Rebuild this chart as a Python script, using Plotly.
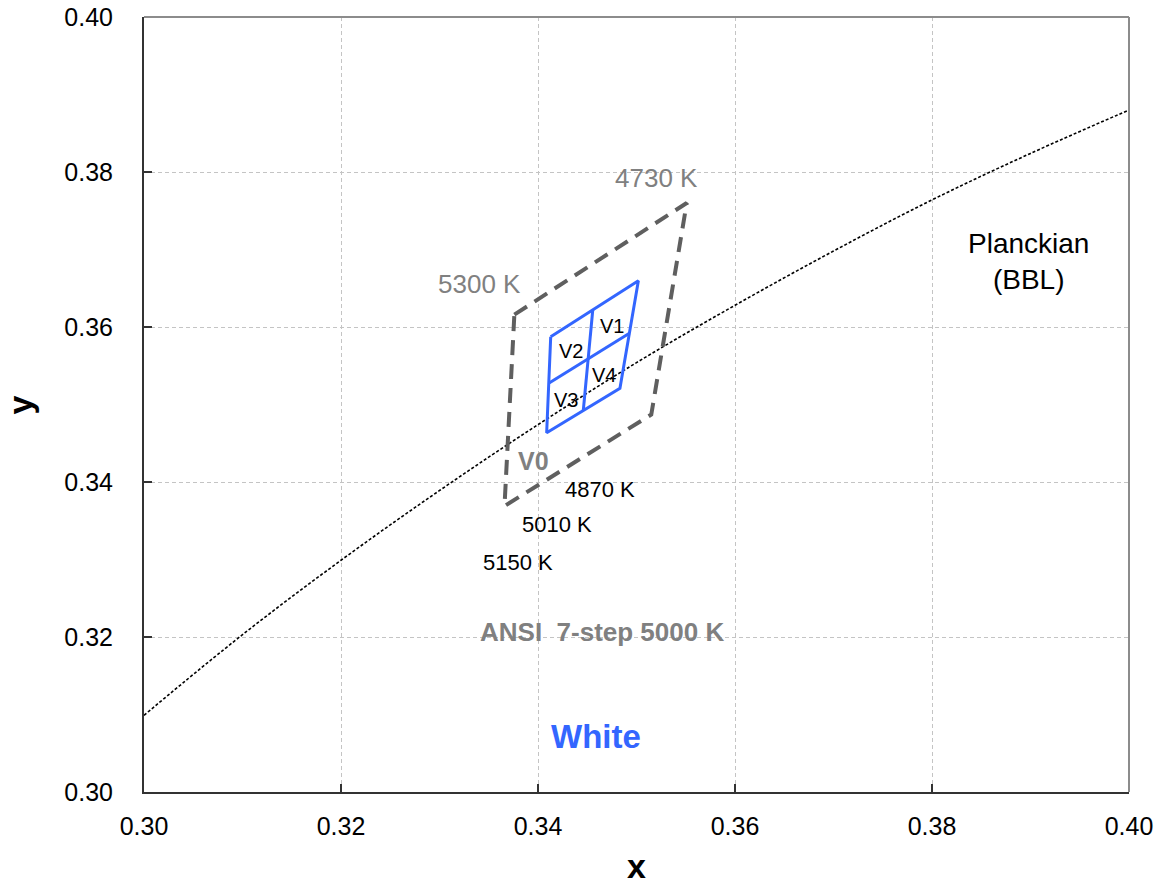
import plotly.graph_objects as go

# Planckian locus (black-body line)
planck_x = [0.30, 0.31, 0.32, 0.33, 0.34, 0.35, 0.36, 0.37, 0.38, 0.39, 0.40]
planck_y = [0.3099, 0.3203, 0.3299, 0.3389, 0.3474, 0.3554, 0.3628, 0.3698, 0.3764, 0.3824, 0.3880]

# ANSI 7-step 5000 K quadrangle (V0)
ansi_x = [0.3376, 0.3551, 0.3515, 0.3366, 0.3376]
ansi_y = [0.3616, 0.3760, 0.3487, 0.3369, 0.3616]

# White bins V1..V4 (outer quadrangle + two dividers)
bin_outer_x = [0.34129, 0.35019, 0.34832, 0.34088, 0.34129]
bin_outer_y = [0.35875, 0.36598, 0.35209, 0.34636, 0.35875]
bin_div1_x = [0.34556, 0.34460]
bin_div1_y = [0.36222, 0.34923]
bin_div2_x = [0.34109, 0.34928]
bin_div2_y = [0.35274, 0.35919]

# Text labels
cct_gray_text = ["4730 K", "5300 K"]
cct_gray_x = [0.35198, 0.33401]
cct_gray_y = [0.37923, 0.36555]

bin_text = ["V1", "V2", "V3", "V4"]
bin_lx = [0.34751, 0.34335, 0.34284, 0.34670]
bin_ly = [0.36013, 0.35690, 0.35058, 0.35380]

cct_black_text = ["4870 K", "5010 K", "5150 K"]
cct_black_x = [0.34630, 0.34193, 0.33797]
cct_black_y = [0.33897, 0.33458, 0.32955]

FONT = "Arial, Liberation Sans, sans-serif"
GRAY_TXT = "#808080"
BLUE = "#3366ff"

fig = go.Figure()

fig.add_trace(go.Scatter(
    x=planck_x, y=planck_y, mode="lines",
    line=dict(color="black", width=1.6, dash="3px,2px", shape="spline"),
    hoverinfo="skip", showlegend=False))

fig.add_trace(go.Scatter(
    x=ansi_x, y=ansi_y, mode="lines",
    line=dict(color="#5f5f5f", width=4, dash="15px,9px"),
    hoverinfo="skip", showlegend=False))

for xs, ys in [(bin_outer_x, bin_outer_y), (bin_div1_x, bin_div1_y), (bin_div2_x, bin_div2_y)]:
    fig.add_trace(go.Scatter(
        x=xs, y=ys, mode="lines",
        line=dict(color=BLUE, width=3),
        hoverinfo="skip", showlegend=False))

ann = []
for t, x, y in zip(cct_gray_text, cct_gray_x, cct_gray_y):
    ann.append(dict(x=x, y=y, text=t, font=dict(family=FONT, size=26, color=GRAY_TXT)))
for t, x, y in zip(bin_text, bin_lx, bin_ly):
    ann.append(dict(x=x, y=y, text=t, font=dict(family=FONT, size=20, color="black")))
for t, x, y in zip(cct_black_text, cct_black_x, cct_black_y):
    ann.append(dict(x=x, y=y, text=t, font=dict(family=FONT, size=22, color="black")))
ann.append(dict(x=0.33959, y=0.34271, text="<b>V0</b>", font=dict(family=FONT, size=25, color=GRAY_TXT)))
ann.append(dict(x=0.34650, y=0.32065, text="<b>ANSI  7-step 5000 K</b>", font=dict(family=FONT, size=26, color=GRAY_TXT)))
ann.append(dict(x=0.34589, y=0.30710, text="<b>White</b>", font=dict(family=FONT, size=33, color=BLUE)))
ann.append(dict(x=0.38975, y=0.36839, text="Planckian<br>(BBL)", font=dict(family=FONT, size=28, color="black")))
for a in ann:
    a.update(xref="x", yref="y", showarrow=False, xanchor="center", yanchor="middle")

# axis titles (paper coordinates)
ann.append(dict(x=0.5, y=-0.0955, xref="paper", yref="paper", text="<b>x</b>", showarrow=False,
                xanchor="center", yanchor="middle", font=dict(family=FONT, size=34, color="black")))
ann.append(dict(x=-0.126, y=0.5, xref="paper", yref="paper", text="<b>y</b>", showarrow=False,
                textangle=-90, xanchor="center", yanchor="middle",
                font=dict(family=FONT, size=34, color="black")))

axis_common = dict(
    showgrid=True, gridcolor="#c4c4c4", gridwidth=1, griddash="4px,3px",
    zeroline=False, showline=True, linecolor="#333333", linewidth=2,
    ticks="inside", ticklen=8, tickcolor="#333333", tickwidth=1.5,
    dtick=0.02, tickformat=".2f", automargin=False,
    tickfont=dict(family=FONT, size=25, color="black"),
)

fig.update_layout(
    width=1161, height=885,
    margin=dict(l=144, r=32, t=17, b=93),
    paper_bgcolor="white", plot_bgcolor="white",
    annotations=ann,
    xaxis=dict(range=[0.30, 0.40], tick0=0.30, ticklabelstandoff=11, **axis_common),
    yaxis=dict(range=[0.30, 0.40], tick0=0.30, ticklabelstandoff=24, **axis_common),
    shapes=[
        dict(type="line", xref="paper", yref="paper", x0=0, x1=1, y0=1, y1=1,
             line=dict(color="#8c8c8c", width=2)),
        dict(type="line", xref="paper", yref="paper", x0=1, x1=1, y0=0, y1=1,
             line=dict(color="#8c8c8c", width=2)),
    ],
)

fig.write_html(
    "out.html",
    config={"displayModeBar": False},
    post_script="document.body.style.margin='0';document.body.style.overflow='hidden';",
)
